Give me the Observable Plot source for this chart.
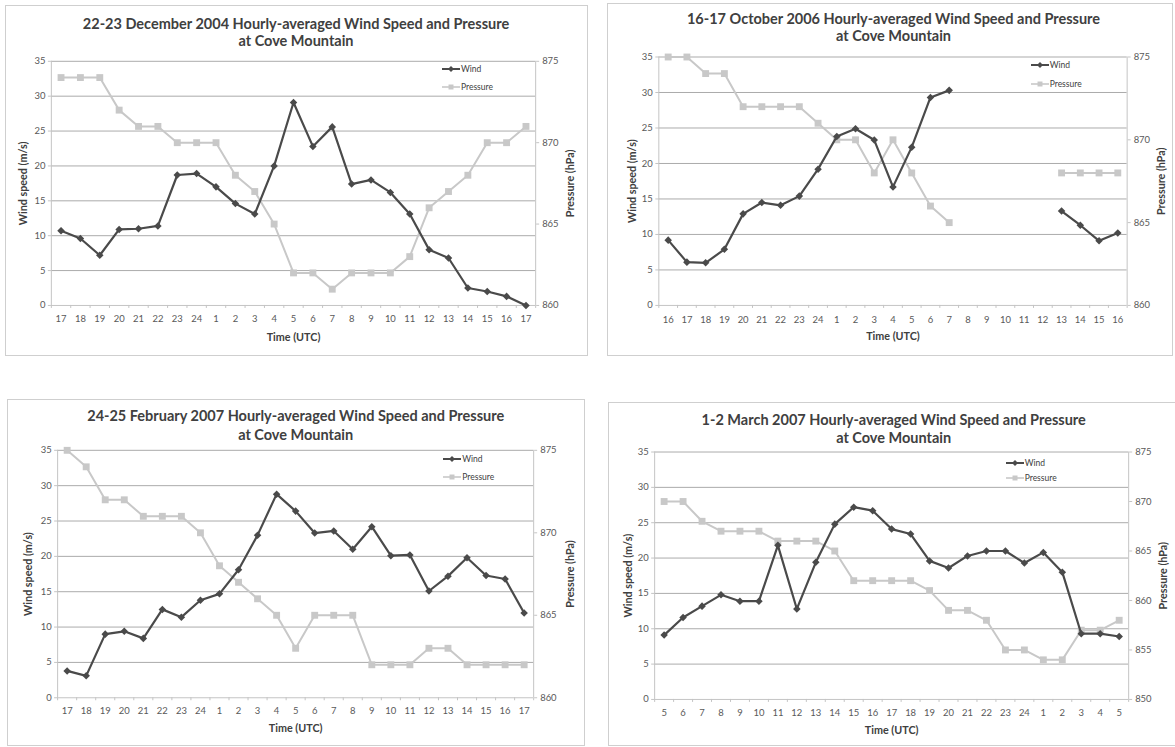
<!DOCTYPE html>
<html>
<head>
<meta charset="utf-8">
<script src="https://cdn.jsdelivr.net/npm/d3@7"></script>
<script src="https://cdn.jsdelivr.net/npm/@observablehq/plot@0.6"></script>
<style>
  html, body { margin: 0; padding: 0; background: #fff; }
  body { width: 1175px; height: 747px; overflow: hidden; position: relative; font-family: Lato, "Open Sans", sans-serif; }
  .box { position: absolute; border: 1px solid #cfcfcf; box-sizing: border-box; }
  .box svg.plotsvg { position: absolute; left: -1px; top: -1px; }
  .tl { position: absolute; transform: translateX(-50%); white-space: nowrap; font-weight: 700; font-size: 14.5px; color: #404040; line-height: 16px; height: 16px; }
  .leg { position: absolute; display: flex; align-items: center; height: 10px; font-size: 8.5px; color: #404040; white-space: nowrap; }
  .leg svg { display: block; }
</style>
</head>
<body>
<script>
// ---------- data ----------
const windTicks = [0, 5, 10, 15, 20, 25, 30, 35];

const dec04Hours = [17,18,19,20,21,22,23,24,1,2,3,4,5,6,7,8,9,10,11,12,13,14,15,16,17];
const dec04Wind = [10.7,9.6,7.2,10.9,11.0,11.4,18.7,18.9,17.0,14.6,13.1,20.0,29.1,22.8,25.6,17.4,18.0,16.2,13.1,8.0,6.8,2.5,2.0,1.3,0.0];
const dec04Pressure = [874,874,874,872,871,871,870,870,870,868,867,865,862,862,861,862,862,862,863,866,867,868,870,870,871];

const oct06Hours = [16,17,18,19,20,21,22,23,24,1,2,3,4,5,6,7,8,9,10,11,12,13,14,15,16];
const oct06Wind = [9.2,6.1,6.0,7.9,12.9,14.5,14.1,15.4,19.2,23.8,24.9,23.3,16.7,22.3,29.3,30.3,null,null,null,null,null,13.3,11.3,9.1,10.2];
const oct06Pressure = [875,875,874,874,872,872,872,872,871,870,870,868,870,868,866,865,null,null,null,null,null,868,868,868,868];

const feb07Hours = [17,18,19,20,21,22,23,24,1,2,3,4,5,6,7,8,9,10,11,12,13,14,15,16,17];
const feb07Wind = [3.8,3.1,9.0,9.4,8.4,12.5,11.4,13.8,14.7,18.1,23.0,28.8,26.4,23.3,23.6,21.0,24.2,20.1,20.2,15.1,17.2,19.8,17.3,16.8,12.0];
const feb07Pressure = [875,874,872,872,871,871,871,870,868,867,866,865,863,865,865,865,862,862,862,863,863,862,862,862,862];

const mar07Hours = [5,6,7,8,9,10,11,12,13,14,15,16,17,18,19,20,21,22,23,24,1,2,3,4,5];
const mar07Wind = [9.1,11.6,13.2,14.8,13.9,13.9,21.8,12.8,19.4,24.8,27.2,26.7,24.1,23.4,19.6,18.6,20.3,21.0,21.0,19.3,20.8,18.0,9.3,9.3,8.9];
const mar07Pressure = [870,870,868,867,867,867,866,866,866,865,862,862,862,862,861,859,859,858,855,855,854,854,857,857,858];

const pressureTicksA = [860, 865, 870, 875];
const pressureTicksB = [850, 855, 860, 865, 870, 875];

const titles = [
  ["22-23 December 2004 Hourly-averaged Wind Speed and Pressure", "at Cove Mountain"],
  ["16-17 October 2006 Hourly-averaged Wind Speed and Pressure", "at Cove Mountain"],
  ["24-25 February 2007 Hourly-averaged Wind Speed and Pressure", "at Cove Mountain"],
  ["1-2 March 2007 Hourly-averaged Wind Speed and Pressure", "at Cove Mountain"]
];
const seriesNames = ["Wind", "Pressure"];
const windLabel = "Wind speed (m/s)";
const pressureLabel = "Pressure (hPa)";
const timeLabel = "Time (UTC)";

// ---------- styling ----------
const WIND_COLOR = "#4a4a4a";
const PRESS_COLOR = "#c8c8c8";
const GRID_COLOR = "#ababab";
const AXIS_COLOR = "#c4c4c4";

// ---------- layout per panel ----------
const panels = [
  { hours: dec04Hours, wind: dec04Wind, pressure: dec04Pressure, pTicks: pressureTicksA, title: titles[0],
    box: {x:5, y:5, w:583, h:351}, plot: {l:51, r:537, t:61, b:306},
    titleY: [24, 41], titleX: 296, leftOff: 28, rightOff: 35, timeOff: 32, tickOff: 10,
    legX: 95, legY: [8, 26] },
  { hours: oct06Hours, wind: oct06Wind, pressure: oct06Pressure, pTicks: pressureTicksA, title: titles[1],
    box: {x:607, y:3, w:566, h:353}, plot: {l:658.5, r:1128.5, t:56.7, b:306},
    titleY: [19, 36], titleX: 893.5, leftOff: 26.6, rightOff: 34.4, timeOff: 31.7, tickOff: 11,
    legX: 97.8, legY: [8.3, 27.3] },
  { hours: feb07Hours, wind: feb07Wind, pressure: feb07Pressure, pTicks: pressureTicksA, title: titles[2],
    box: {x:7, y:399, w:578, h:347}, plot: {l:57.3, r:535, t:450, b:698.3},
    titleY: [416, 435], titleX: 295.7, leftOff: 29, rightOff: 36.7, timeOff: 30.7, tickOff: 10,
    legX: 91.7, legY: [9, 27.3] },
  { hours: mar07Hours, wind: mar07Wind, pressure: mar07Pressure, pTicks: pressureTicksB, title: titles[3],
    box: {x:608, y:402, w:570, h:344}, plot: {l:654.3, r:1130, t:451.7, b:700},
    titleY: [420, 438.3], titleX: 893.7, leftOff: 26, rightOff: 35, timeOff: 31.7, tickOff: 9.5,
    legX: 124.3, legY: [11.6, 26.6] }
];

function legendRow(name, color, symbol, width) {
  const row = document.createElement("div");
  row.className = "leg";
  const ns = "http://www.w3.org/2000/svg";
  const s = document.createElementNS(ns, "svg");
  s.setAttribute("width", 18); s.setAttribute("height", 10);
  const ln = document.createElementNS(ns, "line");
  ln.setAttribute("x1", 0); ln.setAttribute("x2", 18); ln.setAttribute("y1", 5); ln.setAttribute("y2", 5);
  ln.setAttribute("stroke", color); ln.setAttribute("stroke-width", width);
  s.appendChild(ln);
  const p = document.createElementNS(ns, "path");
  p.setAttribute("d", symbol === "diamond" ? "M9,2L12,5L9,8L6,5Z" : "M6.5,2.5H11.5V7.5H6.5Z");
  p.setAttribute("fill", color);
  s.appendChild(p);
  row.appendChild(s);
  const t = document.createElement("span");
  t.style.marginLeft = "1px";
  t.textContent = name;
  row.appendChild(t);
  return row;
}

function drawPanel(cfg) {
  const {box, plot, hours, wind, pressure, pTicks} = cfg;
  const n = hours.length;
  const windMax = d3.max(windTicks);
  const pMin = d3.min(pTicks), pMax = d3.max(pTicks);
  const toWind = p => (p - pMin) / (pMax - pMin) * windMax;
  const fromWind = w => pMin + w / windMax * (pMax - pMin);
  const rows = hours.map((h, i) => ({i, h, wind: wind[i], pressure: pressure[i]}));
  const pY = d => d.pressure == null ? NaN : toWind(d.pressure);
  const wY = d => d.wind == null ? NaN : d.wind;

  const div = document.createElement("div");
  div.className = "box";
  div.style.left = box.x + "px";
  div.style.top = box.y + "px";
  div.style.width = box.w + "px";
  div.style.height = box.h + "px";
  document.body.appendChild(div);

  const labelStyle = {text: d => d, fontWeight: "bold", fontSize: 10.8, fill: "#404040", textAnchor: "middle", lineAnchor: "middle"};

  const chart = Plot.plot({
    width: box.w,
    height: box.h,
    marginLeft: plot.l - box.x,
    marginRight: box.x + box.w - plot.r,
    marginTop: plot.t - box.y,
    marginBottom: box.y + box.h - plot.b,
    x: {domain: [-0.5, n - 0.5]},
    y: {domain: [0, windMax]},
    style: {fontFamily: "Lato, 'Open Sans', sans-serif", fontSize: "9.5px", color: "#595959", background: "transparent", overflow: "visible"},
    marks: [
      Plot.ruleY(windTicks.filter(t => t > 0), {stroke: GRID_COLOR, strokeWidth: 1}),
      Plot.ruleX([-0.5, n - 0.5], {stroke: AXIS_COLOR}),
      Plot.ruleY([0], {stroke: AXIS_COLOR}),
      Plot.axisY({anchor: "left", ticks: windTicks, tickSize: 3, tickPadding: 3, stroke: AXIS_COLOR, fill: "#595959", label: null}),
      Plot.axisY({anchor: "right", ticks: pTicks.map(toWind), tickFormat: v => String(Math.round(fromWind(v))), tickSize: 3, tickPadding: 3.5, stroke: AXIS_COLOR, fill: "#595959", label: null}),
      Plot.axisX({anchor: "bottom", ticks: d3.range(n + 1).map(i => i - 0.5), tickFormat: () => "", tickSize: 3, stroke: AXIS_COLOR, label: null}),
      Plot.axisX({anchor: "bottom", ticks: d3.range(n), tickFormat: i => String(hours[i]), tickSize: 0, tickPadding: cfg.tickOff, fill: "#595959", label: null}),
      Plot.line(rows, {x: "i", y: pY, stroke: PRESS_COLOR, strokeWidth: 2}),
      Plot.dot(rows, {x: "i", y: pY, symbol: "square", r: 3.9, fill: PRESS_COLOR, stroke: "none"}),
      Plot.line(rows, {x: "i", y: wY, stroke: WIND_COLOR, strokeWidth: 2.2}),
      Plot.dot(rows, {x: "i", y: wY, symbol: "diamond2", r: 3.4, fill: WIND_COLOR, stroke: "none"}),
      Plot.text([windLabel], {...labelStyle, frameAnchor: "left", dx: -cfg.leftOff, rotate: -90}),
      Plot.text([pressureLabel], {...labelStyle, frameAnchor: "right", dx: cfg.rightOff, rotate: -90}),
      Plot.text([timeLabel], {...labelStyle, frameAnchor: "bottom", dy: cfg.timeOff})
    ]
  });
  chart.classList.add("plotsvg");
  div.appendChild(chart);

  // title
  cfg.title.forEach((line, k) => {
    const t = document.createElement("div");
    t.className = "tl";
    t.textContent = line;
    t.style.left = (cfg.titleX - box.x - 1) + "px";
    t.style.top = (cfg.titleY[k] - box.y - 1 - 8) + "px";
    div.appendChild(t);
  });

  // legend
  const legLeft = plot.r - cfg.legX - box.x - 1;
  const r1 = legendRow(seriesNames[0], WIND_COLOR, "diamond", 2);
  r1.style.left = legLeft + "px";
  r1.style.top = (plot.t + cfg.legY[0] - box.y - 1 - 5) + "px";
  div.appendChild(r1);
  const r2 = legendRow(seriesNames[1], PRESS_COLOR, "square", 1.6);
  r2.style.left = legLeft + "px";
  r2.style.top = (plot.t + cfg.legY[1] - box.y - 1 - 5) + "px";
  div.appendChild(r2);
}

panels.forEach(drawPanel);
</script>
</body>
</html>
